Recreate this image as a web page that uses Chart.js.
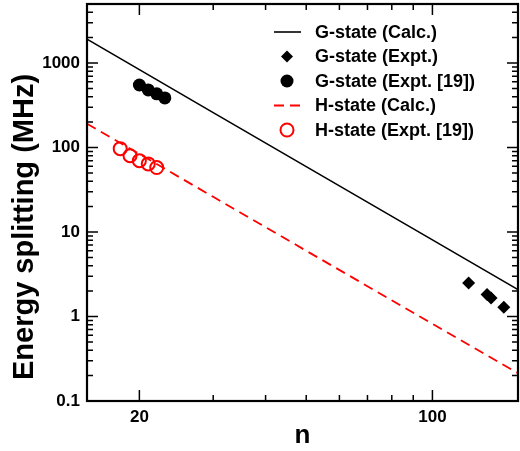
<!DOCTYPE html>
<html lang="en">
<head>
<meta charset="UTF-8">
<title>Energy splitting vs n</title>
<script src="https://cdn.jsdelivr.net/npm/chart.js"></script>
<style>
  html, body { margin: 0; padding: 0; background: #fff; }
  .chart-container { width: 520px; height: 451px; }
</style>
</head>
<body>
<div class="chart-container"><canvas id="myChart" width="520" height="451"></canvas></div>
<script>
// G-state, calculated (solid line)
const gCalcN   = [15, 20, 30, 50, 100, 160];
const gCalcVal = [1920, 836, 259, 59.4, 8.07, 2.08];
// G-state, experiment (diamonds)
const gExptN   = [122, 135, 138, 148];
const gExptVal = [2.49, 1.82, 1.66, 1.29];
// G-state, experiment [19] (filled circles)
const gRefN    = [20, 21, 22, 23];
const gRefVal  = [550, 481, 432, 387];
// H-state, calculated (dashed line)
const hCalcN   = [15, 20, 30, 50, 100, 160];
const hCalcVal = [191, 83.8, 26.1, 6.0, 0.82, 0.213];
// H-state, experiment [19] (open circles)
const hRefN    = [18, 19, 20, 21, 22];
const hRefVal  = [97, 80, 70, 64, 58];

// axis ticks
const xLabels = [20, 100];
const xMinor  = [30, 40, 50, 60, 70, 80, 90];
const yLabels = [0.1, 1, 10, 100, 1000];
const yMinor  = [0.2, 0.3, 0.4, 0.5, 0.6, 0.7, 0.8, 0.9,
                 2, 3, 4, 5, 6, 7, 8, 9,
                 20, 30, 40, 50, 60, 70, 80, 90,
                 200, 300, 400, 500, 600, 700, 800, 900,
                 2000, 3000, 4000];

const FONT = 'Liberation Sans, Arial, Helvetica, sans-serif';
const pts = (xs, ys) => xs.map((v, i) => ({ x: v, y: ys[i] }));

const datasets = [
  { label: 'G-state (Calc.)', data: pts(gCalcN, gCalcVal), showLine: true,
    borderColor: '#000', borderWidth: 1.6, pointRadius: 0 },
  { label: 'G-state (Expt.)', data: pts(gExptN, gExptVal), pointStyle: 'rectRot',
    pointRadius: 6.5, backgroundColor: '#000', borderColor: '#000', borderWidth: 0 },
  { label: 'G-state (Expt. [19])', data: pts(gRefN, gRefVal), pointStyle: 'circle',
    pointRadius: 6.5, backgroundColor: '#000', borderColor: '#000', borderWidth: 0 },
  { label: 'H-state (Calc.)', data: pts(hCalcN, hCalcVal), showLine: true,
    borderColor: '#ff0000', borderWidth: 1.8, borderDash: [10, 6], pointRadius: 0 },
  { label: 'H-state (Expt. [19])', data: pts(hRefN, hRefVal), pointStyle: 'circle',
    pointRadius: 6.5, backgroundColor: 'rgba(0,0,0,0)', borderColor: '#ff0000', borderWidth: 2 }
];

// no extra room for first/last tick labels: the plot fills the frame
const noPad = s => {
  s.paddingLeft = 0; s.paddingRight = 0; s.paddingTop = 0; s.paddingBottom = 0;
};

// frame, inward ticks on all four sides, y title and legend
const decorations = {
  id: 'decorations',
  afterDraw(chart) {
    const { ctx, chartArea: a, scales: { x, y } } = chart;
    ctx.save();
    ctx.strokeStyle = '#000';
    ctx.lineWidth = 1.5;
    ctx.beginPath();
    const xt = (v, len) => {
      const p = x.getPixelForValue(v);
      ctx.moveTo(p, a.bottom); ctx.lineTo(p, a.bottom - len);
      ctx.moveTo(p, a.top); ctx.lineTo(p, a.top + len);
    };
    const yt = (v, len) => {
      const p = y.getPixelForValue(v);
      ctx.moveTo(a.left, p); ctx.lineTo(a.left + len, p);
      ctx.moveTo(a.right, p); ctx.lineTo(a.right - len, p);
    };
    xLabels.forEach(v => xt(v, 11));
    xMinor.forEach(v => xt(v, 6));
    yLabels.forEach(v => yt(v, 11));
    yMinor.forEach(v => yt(v, 6));
    ctx.stroke();

    ctx.lineWidth = 2.2;
    ctx.strokeRect(a.left, a.top, a.right - a.left, a.bottom - a.top);

    // y axis title
    ctx.save();
    ctx.translate(33, 227);
    ctx.rotate(-Math.PI / 2);
    ctx.fillStyle = '#000';
    ctx.font = 'bold 29px ' + FONT;
    ctx.textAlign = 'center';
    ctx.textBaseline = 'alphabetic';
    ctx.fillText('Energy splitting (MHz)', 0, 0);
    ctx.restore();

    // legend
    ctx.font = 'bold 18px ' + FONT;
    ctx.textAlign = 'left';
    ctx.textBaseline = 'middle';
    chart.data.datasets.forEach((ds, i) => {
      const ry = 32 + i * 24.5;
      const cx = 287;
      if (ds.showLine) {
        ctx.save();
        ctx.strokeStyle = ds.borderColor;
        ctx.lineWidth = ds.borderWidth;
        ctx.setLineDash(ds.borderDash || []);
        ctx.beginPath();
        ctx.moveTo(274, ry); ctx.lineTo(301, ry);
        ctx.stroke();
        ctx.restore();
      } else {
        ctx.save();
        ctx.fillStyle = ds.backgroundColor;
        ctx.strokeStyle = ds.borderColor;
        ctx.lineWidth = ds.borderWidth;
        const r = ds.pointStyle === 'rectRot' ? 6 : 6.5;
        Chart.helpers.drawPoint(ctx, { pointStyle: ds.pointStyle, radius: r,
          borderWidth: ds.borderWidth, rotation: 0 }, cx, ry);
        ctx.restore();
      }
      ctx.fillStyle = '#000';
      ctx.fillText(ds.label, 315, ry + 1);
    });
    ctx.restore();
  }
};

new Chart(document.getElementById('myChart'), {
  type: 'scatter',
  data: { datasets },
  options: {
    responsive: false,
    animation: false,
    devicePixelRatio: 1,
    layout: { autoPadding: false, padding: { top: 4, right: 2, left: 0, bottom: 0 } },
    plugins: { legend: { display: false }, tooltip: { enabled: false } },
    scales: {
      x: {
        type: 'logarithmic', min: 15, max: 160,
        grid: { display: false, drawTicks: false },
        border: { display: false },
        afterBuildTicks: s => { s.ticks = xLabels.map(v => ({ value: v })); },
        afterFit: s => { s.height = 50; noPad(s); },
        ticks: { autoSkip: false, maxRotation: 0, padding: 6, color: '#000',
                 font: { family: FONT, size: 17, weight: 'bold' },
                 callback: v => String(v) },
        title: { display: true, text: 'n', color: '#000', padding: { top: 0, bottom: 0 },
                 font: { family: FONT, size: 26, weight: 'bold' } }
      },
      y: {
        type: 'logarithmic', min: 0.1, max: 5000,
        grid: { display: false, drawTicks: false },
        border: { display: false },
        afterBuildTicks: s => { s.ticks = yLabels.map(v => ({ value: v })); },
        afterFit: s => { s.width = 87; noPad(s); },
        ticks: { autoSkip: false, padding: 7, color: '#000',
                 font: { family: FONT, size: 17, weight: 'bold' },
                 callback: v => String(v) }
      }
    }
  },
  plugins: [decorations]
});
</script>
</body>
</html>
